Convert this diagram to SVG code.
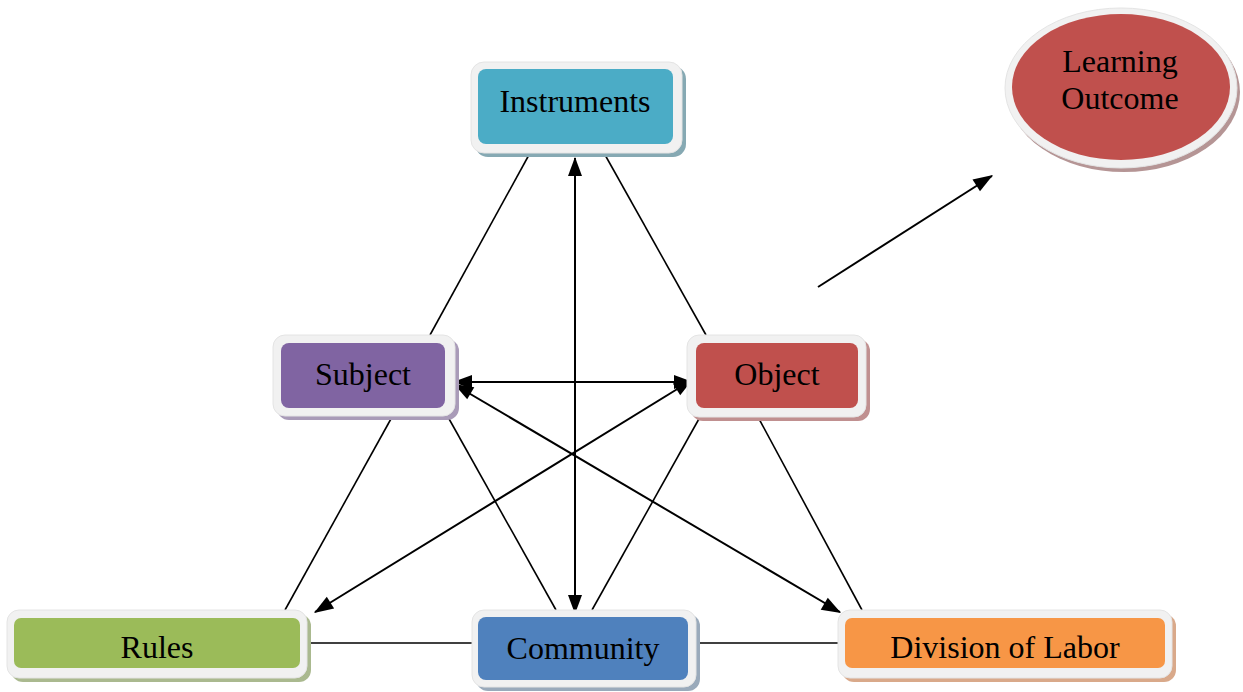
<svg xmlns="http://www.w3.org/2000/svg" width="1243" height="692" viewBox="0 0 1243 692">
<style>
.frame{fill:#f1f1f1;stroke:#e4e4e4;stroke-width:1}
.lbl{font-family:"Liberation Serif","Times New Roman",serif;font-size:32px;fill:#000;text-anchor:middle}
.ln{stroke:#000;stroke-width:1.6;fill:none}
.ar{stroke:#000;stroke-width:2;fill:none}
</style>
<rect width="1243" height="692" fill="#fff"/>
<g id="connectors">
<line class="ln" x1="530" y1="153" x2="430" y2="335"/>
<line class="ln" x1="604" y1="153" x2="706" y2="335"/>
<line class="ln" x1="392" y1="417" x2="285" y2="610"/>
<line class="ln" x1="448" y1="417" x2="556" y2="610"/>
<line class="ln" x1="700" y1="417" x2="592" y2="610"/>
<line class="ln" x1="758" y1="417" x2="862" y2="610"/>
<line class="ln" x1="308" y1="643" x2="472" y2="643"/>
<line class="ln" x1="697" y1="643" x2="838" y2="643"/>
<path class="ar" d="M575,158 L575,612"/>
<polygon points="575,157 568,176 582,176"/>
<polygon points="575,614 568,595 582,595"/>
<path class="ar" d="M454,382 L692,382"/>
<polygon points="453,382 472,375 472,389"/>
<polygon points="693,382 674,375 674,389"/>
<path class="ar" d="M455,385 L840,612"/>
<polygon points="454,384 474.3,387.2 467.2,399.2"/>
<polygon points="841,613 820.7,609.8 827.8,597.8"/>
<path class="ar" d="M692,380 L315,612"/>
<polygon points="693,379 680.2,395.3 672.9,383.4"/>
<polygon points="314,613 326.8,596.7 334.1,608.6"/>
<path class="ar" d="M818,287 L992,176"/>
<polygon points="993,175 980.0,191.2 972.5,179.4"/>
</g>
<g id="instruments">
<rect x="475" y="66" width="211" height="91" rx="13" fill="#86a9b3"/>
<rect class="frame" x="471" y="62" width="211" height="91" rx="13"/>
<rect x="478" y="69" width="195" height="75" rx="8" fill="#4bacc6"/>
<text class="lbl" x="575" y="112">Instruments</text>
</g>
<g id="subject">
<rect x="277" y="339" width="182" height="81" rx="12" fill="#a99bb8"/>
<rect class="frame" x="273" y="335" width="182" height="81" rx="12"/>
<rect x="281" y="343" width="164" height="65" rx="8" fill="#8064a2"/>
<text class="lbl" x="363" y="385">Subject</text>
</g>
<g id="object">
<rect x="691" y="339" width="179" height="82" rx="12" fill="#c09090"/>
<rect class="frame" x="687" y="335" width="179" height="82" rx="12"/>
<rect x="696" y="343" width="162" height="65" rx="8" fill="#c0504d"/>
<text class="lbl" x="777" y="385">Object</text>
</g>
<g id="rules">
<rect x="11" y="614" width="300" height="68" rx="12" fill="#aab98f"/>
<rect class="frame" x="7" y="610" width="300" height="68" rx="12"/>
<rect x="14" y="618" width="286" height="50" rx="7" fill="#9bbb59"/>
<text class="lbl" x="157" y="658">Rules</text>
</g>
<g id="community">
<rect x="476" y="614" width="224" height="77" rx="12" fill="#9aaabb"/>
<rect class="frame" x="472" y="610" width="224" height="77" rx="12"/>
<rect x="478" y="617" width="210" height="63" rx="8" fill="#4f81bd"/>
<text class="lbl" x="583" y="659">Community</text>
</g>
<g id="division">
<rect x="842" y="614" width="334" height="68" rx="12" fill="#d9a98a"/>
<rect class="frame" x="838" y="610" width="334" height="68" rx="12"/>
<rect x="845" y="618" width="320" height="50" rx="7" fill="#f79646"/>
<text class="lbl" x="1005" y="658">Division of Labor</text>
</g>
<g id="learning-outcome">
<ellipse cx="1124" cy="92" rx="116" ry="80" fill="#b59595"/>
<ellipse class="frame" cx="1121" cy="88" rx="116" ry="80"/>
<ellipse cx="1121" cy="87" rx="109" ry="73" fill="#c0504d"/>
<text class="lbl" x="1120" y="72">Learning</text>
<text class="lbl" x="1120" y="109">Outcome</text>
</g>
</svg>
